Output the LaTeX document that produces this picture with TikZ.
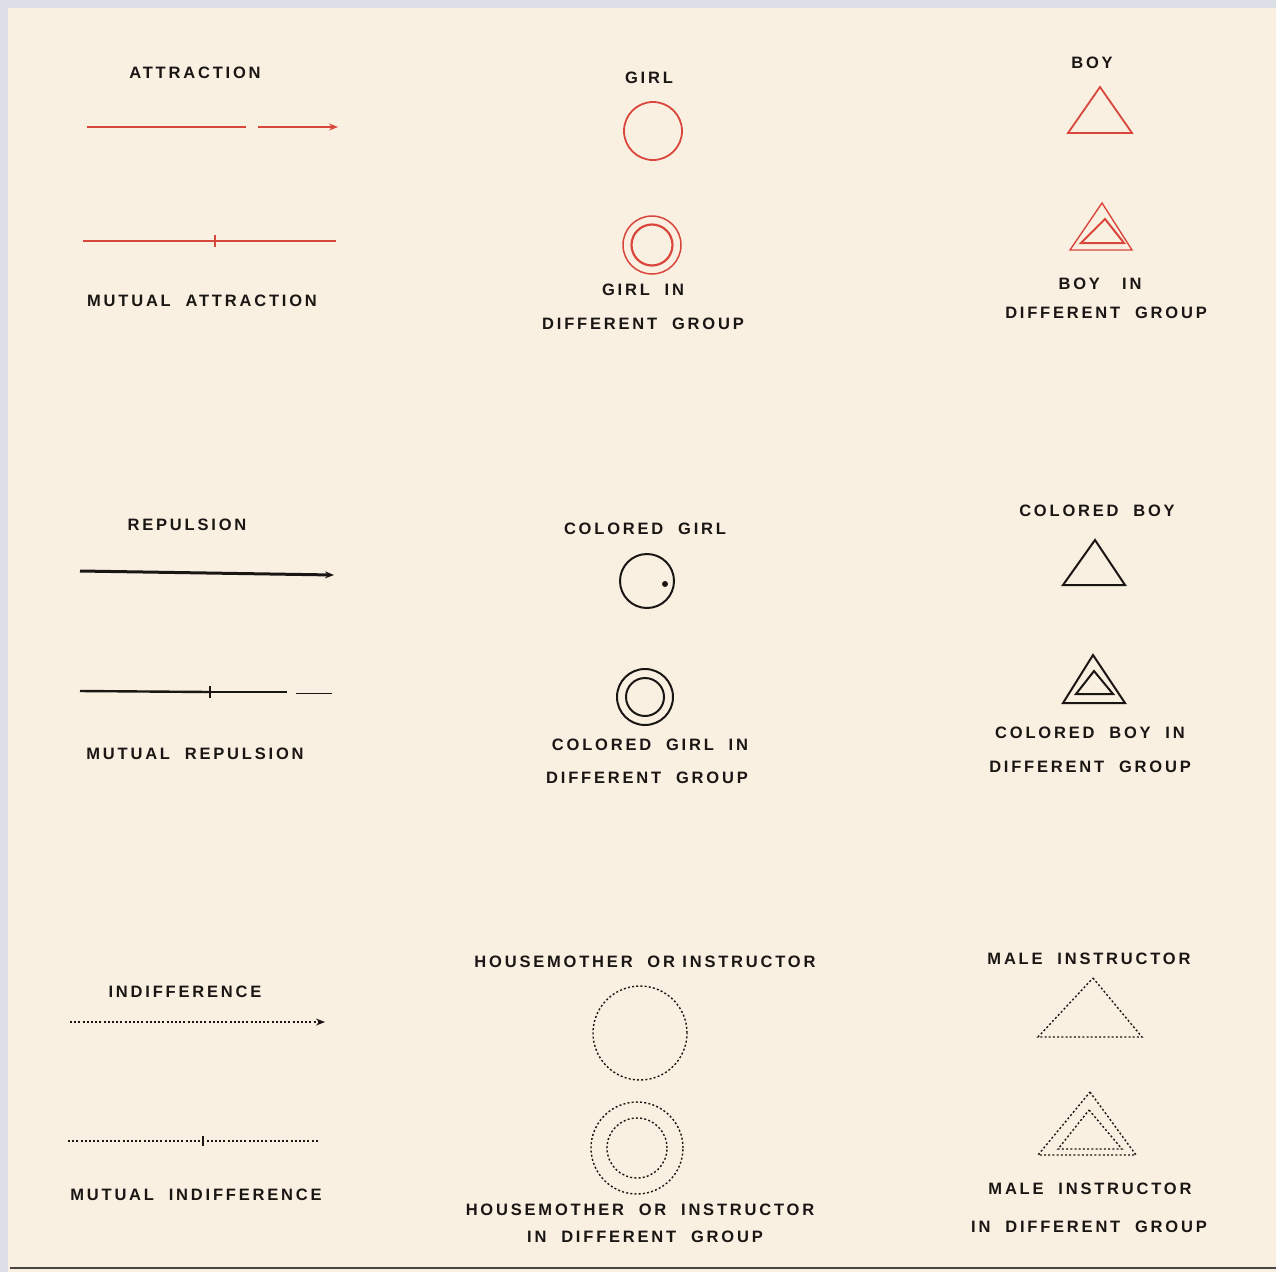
\documentclass[tikz,border=0pt]{standalone}
\usepackage{fontspec}
\newfontfamily\lgdfont[LetterSpace=17]{Liberation Sans}
\usetikzlibrary{arrows.meta,shapes.geometric}
\definecolor{paper}{HTML}{FAF0E2}
\definecolor{frame}{HTML}{DCE0E6}
\definecolor{redink}{HTML}{D9473C}
\definecolor{ink}{HTML}{1A1614}
\tikzset{
  lbl/.style={font=\lgdfont\bfseries\fontsize{16.5}{19}\selectfont, text=ink, inner sep=0pt},
  redline/.style={draw=redink, line width=1.6pt},
  blackline/.style={draw=ink, line width=2.4pt},
  dotline/.style={draw=ink, line width=1.4pt, dash pattern=on 2pt off 2.2pt},
  tip/.style={-{Stealth[length=9pt,width=7pt]}},
  girlsym/.style={circle, draw, inner sep=0pt},
}
\begin{document}
\begin{tikzpicture}[x=1pt,y=-1pt]
\useasboundingbox (0,0) rectangle (1276,1272);
\fill[frame] (0,0) rectangle (1276,1272);
\fill[paper] (8,8) rectangle (1276,1272);
\draw[ink!80, line width=2.5pt] (10,1268) -- (1276,1268);

% ---------------- column 1 ----------------
\node[lbl] (tAttr) at (195,73) {ATTRACTION};
\coordinate (a1) at (87,127); \coordinate (a2) at (246,127);
\coordinate (a3) at (258,127); \coordinate (a4) at (338,127);
\draw[redline] (a1) -- (a2);
\draw[redline, line width=1.2pt, tip] (a3) -- (a4);

\coordinate (m1) at (83,241); \coordinate (m2) at (336,241); \coordinate (mt) at (215,241);
\draw[redline, line width=2.4pt] (m1) -- (m2);
\draw[redink, line width=1.8pt] ([yshift=-6pt]mt) -- ([yshift=6pt]mt);
\node[lbl] (tMAttr) at (202,301) {MUTUAL\ \ ATTRACTION};

\node[lbl] (tRep) at (187,525) {REPULSION};
\coordinate (r1) at (80,571); \coordinate (r2) at (334,575);
\draw[blackline, line width=3pt, tip] (r1) -- (r2);

\coordinate (mr1) at (80,691); \coordinate (mr2) at (287,692);
\coordinate (mr3) at (296,693); \coordinate (mr4) at (332,693); \coordinate (mrt) at (210,692);
\draw[blackline] (mr1) -- (mrt);
\draw[ink, line width=1.3pt] (mrt) -- (mr2);
\draw[ink, line width=1pt] (mr3) -- (mr4);
\draw[ink, line width=1.8pt] ([yshift=-6pt]mrt) -- ([yshift=6pt]mrt);
\node[lbl] (tMRep) at (195,754) {MUTUAL\ \ REPULSION};

\node[lbl] (tInd) at (185,992) {INDIFFERENCE};
\coordinate (i1) at (70,1022); \coordinate (i2) at (325,1022);
\draw[dotline, tip] (i1) -- (i2);

\coordinate (mi1) at (68,1141); \coordinate (mi2) at (318,1141); \coordinate (mit) at (203,1141);
\draw[dotline] (mi1) -- (mi2);
\draw[ink, line width=1.6pt] ([yshift=-5pt]mit) -- ([yshift=5pt]mit);
\node[lbl] (tMInd) at (196,1195) {MUTUAL\ \ INDIFFERENCE};

% ---------------- column 2 ----------------
\node[lbl] (tGirl) at (649,78) {GIRL};
\node[girlsym, draw=redink, line width=1.8pt, minimum size=58pt] (girl) at (653,131) {};

\node[girlsym, draw=redink, line width=1.5pt, minimum size=58pt] (girlDo) at (652,245) {};
\node[girlsym, draw=redink, line width=2.2pt, minimum size=41pt] (girlDi) at (652,245) {};
\node[lbl] (tGirlD1) at (643,290) {GIRL\ \ IN};
\node[lbl] (tGirlD2) at (643,324) {DIFFERENT\ \ GROUP};

\node[lbl] (tCGirl) at (645,529) {COLORED\ \ GIRL};
\node[girlsym, draw=ink, line width=2pt, minimum size=54pt] (cgirl) at (647,581) {};
\fill[ink] (665,584) circle (3pt);

\node[girlsym, draw=ink, line width=2pt, minimum size=56pt] (cgirlDo) at (645,697) {};
\node[girlsym, draw=ink, line width=2pt, minimum size=38pt] (cgirlDi) at (645,697) {};
\node[lbl] (tCGirlD1) at (650,745) {COLORED\ \ GIRL\ \ IN};
\node[lbl] (tCGirlD2) at (647,778) {DIFFERENT\ \ GROUP};

\node[lbl] (tHM) at (645,962) {HOUSEMOTHER\ \ OR INSTRUCTOR};
\node[girlsym, dotline, minimum size=94pt] (hm) at (640,1033) {};

\node[girlsym, dotline, minimum size=92pt] (hmDo) at (637,1148) {};
\node[girlsym, dotline, minimum size=60pt] (hmDi) at (637,1148) {};
\node[lbl] (tHMD1) at (640,1210) {HOUSEMOTHER\ \ OR\ \ INSTRUCTOR};
\node[lbl] (tHMD2) at (645,1237) {IN\ \ DIFFERENT\ \ GROUP};

% ---------------- column 3 ----------------
\node[lbl] (tBoy) at (1092,63) {BOY};
\draw[redink, line width=1.8pt, line join=miter] (1100,87) -- (1132,133) -- (1068,133) -- cycle;

\draw[redink, line width=1.4pt, line join=miter] (1102,203) -- (1132,250) -- (1070,250) -- cycle;
\draw[redink, line width=2pt, line join=miter] (1105,219) -- (1124,243) -- (1081,243) -- cycle;
\node[lbl] (tBoyD1) at (1100,284) {BOY\ \ \ IN};
\node[lbl] (tBoyD2) at (1106,313) {DIFFERENT\ \ GROUP};

\node[lbl] (tCBoy) at (1097,511) {COLORED\ \ BOY};
\draw[ink, line width=2pt, line join=miter] (1095,540) -- (1125,585) -- (1063,585) -- cycle;

\draw[ink, line width=2pt, line join=miter] (1093,655) -- (1125,703) -- (1063,703) -- cycle;
\draw[ink, line width=2pt, line join=miter] (1094,671) -- (1113,694) -- (1076,694) -- cycle;
\node[lbl] (tCBoyD1) at (1090,733) {COLORED\ \ BOY\ \ IN};
\node[lbl] (tCBoyD2) at (1090,767) {DIFFERENT\ \ GROUP};

\node[lbl] (tMale) at (1089,959) {MALE\ \ INSTRUCTOR};
\draw[dotline, line join=miter] (1093,978) -- (1142,1037) -- (1038,1037) -- cycle;

\draw[dotline, line join=miter] (1090,1092) -- (1136,1155) -- (1038,1155) -- cycle;
\draw[dotline, line join=miter] (1089,1110) -- (1122,1149) -- (1058,1149) -- cycle;
\node[lbl] (tMaleD1) at (1090,1189) {MALE\ \ INSTRUCTOR};
\node[lbl] (tMaleD2) at (1089,1227) {IN\ \ DIFFERENT\ \ GROUP};
\end{tikzpicture}
\end{document}
